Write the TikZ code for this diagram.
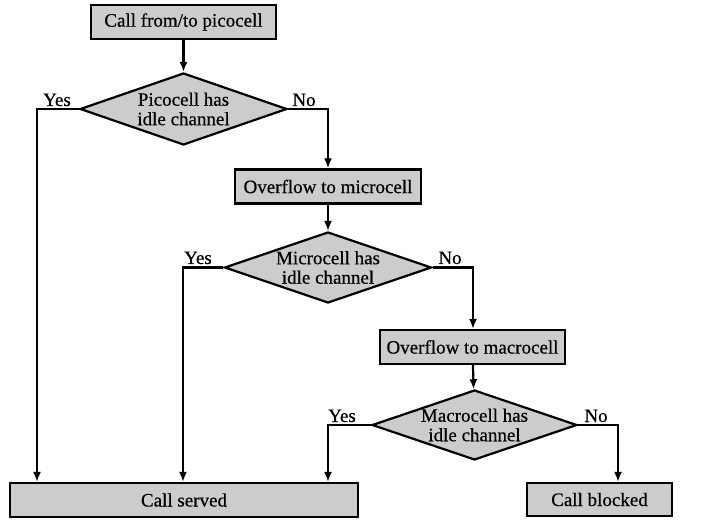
\documentclass[tikz,border=0pt]{standalone}
\usepackage{fontspec}
\setmainfont{Liberation Serif}
\newfontfamily\chartfont{Liberation Serif}[FakeBold=0.5]
\usetikzlibrary{shapes.geometric,arrows.meta}
\tikzset{
  chartfont/.style={font=\chartfont\fontsize{19bp}{19.5bp}\selectfont},
  proc/.style={draw=black, line width=2.2bp, fill=black!20, minimum height=34bp,
    inner sep=0pt, chartfont},
  decide/.style={draw=black, line width=2.2bp, fill=black!20, diamond, inner sep=0pt},
  dtext/.style={inner sep=0pt, align=center, chartfont},
  flow/.style={line width=2.2bp, -{Latex[length=10bp,width=8bp]}},
  tag/.style={anchor=base, inner sep=0pt, chartfont}
}
\begin{document}
\begin{tikzpicture}[x=1bp,y=-1bp]
\useasboundingbox (0,0) rectangle (714,520);
% process boxes
\node[proc, minimum width=185bp] (start) at (183.5,22) {Call from/to picocell};
\node[proc, minimum width=186bp] (micro) at (328,186.5) {Overflow to microcell};
\node[proc, minimum width=185bp] (macro) at (472.5,347) {Overflow to macrocell};
\node[proc, minimum width=348bp, minimum height=34bp] (served) at (184,500) {Call served};
\node[proc, minimum width=145bp, minimum height=33bp] (blocked) at (599.5,499.5) {Call blocked};
% decisions: outline first, wording on top
\node[decide, minimum width=207bp, minimum height=72bp] (d1) at (183.5,109) {};
\node[dtext] (t1) at (d1) {Picocell has\\idle channel};
\node[decide, minimum width=207bp, minimum height=71bp] (d2) at (328,267.5) {};
\node[dtext] (t2) at (d2) {Microcell has\\idle channel};
\node[decide, minimum width=205bp, minimum height=70bp] (d3) at (474.5,425) {};
\node[dtext] (t3) at (d3) {Macrocell has\\idle channel};
% corner points of the branches
\coordinate (y1) at (37,109);
\coordinate (n1) at (328,109);
\coordinate (y2) at (183,267.5);
\coordinate (n2) at (473,267.5);
\coordinate (y3) at (328,425);
\coordinate (n3) at (618,425);
% connectors
\draw[flow] (start) -- (d1);
\draw[flow] (d1.west) -- (y1) -- (y1 |- served.north);
\draw[flow] (d1.east) -- (n1) -- (micro.north);
\draw[flow] (micro) -- (d2);
\draw[flow] (d2.west) -- (y2) -- (y2 |- served.north);
\draw[flow] (d2.east) -- (n2) -- (n2 |- macro.north);
\draw[flow] (macro) -- (d3);
\draw[flow] (d3.west) -- (y3) -- (y3 |- served.north);
\draw[flow] (d3.east) -- (n3) -- (n3 |- blocked.north);
% branch labels
\node[tag] (l1y) at (57,106) {Yes};
\node[tag] (l1n) at (304,106) {No};
\node[tag] (l2y) at (198,264) {Yes};
\node[tag] (l2n) at (450,264) {No};
\node[tag] (l3y) at (342,422) {Yes};
\node[tag] (l3n) at (596,422) {No};
\end{tikzpicture}
\end{document}
